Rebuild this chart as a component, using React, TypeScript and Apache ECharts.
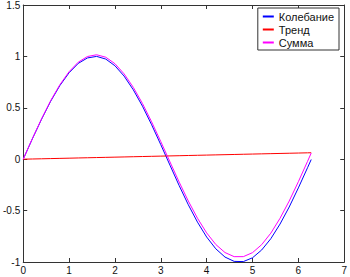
import React, { useEffect, useRef } from "react";
import * as echarts from "echarts";

const xs = [0, 0.2, 0.4, 0.6, 0.8, 1.0, 1.2, 1.4, 1.6, 1.8, 2.0, 2.2, 2.4, 2.6, 2.8, 3.0, 3.2, 3.4, 3.6, 3.8, 4.0, 4.2, 4.4, 4.6, 4.8, 5.0, 5.2, 5.4, 5.6, 5.8, 6.0, 6.2, 6.28];
const oscillation = [0, 0.199, 0.389, 0.565, 0.717, 0.841, 0.932, 0.985, 1.0, 0.974, 0.909, 0.808, 0.675, 0.516, 0.335, 0.141, -0.058, -0.256, -0.443, -0.612, -0.757, -0.872, -0.952, -0.994, -0.996, -0.959, -0.883, -0.773, -0.631, -0.465, -0.279, -0.083, -0.003];
const trend = [0, 0.002, 0.004, 0.006, 0.008, 0.01, 0.012, 0.014, 0.016, 0.018, 0.02, 0.022, 0.024, 0.026, 0.028, 0.03, 0.032, 0.034, 0.036, 0.038, 0.04, 0.042, 0.044, 0.046, 0.048, 0.05, 0.052, 0.054, 0.056, 0.058, 0.06, 0.062, 0.0628];
const total = [0, 0.201, 0.393, 0.571, 0.725, 0.851, 0.944, 0.999, 1.016, 0.992, 0.929, 0.83, 0.699, 0.542, 0.363, 0.171, -0.026, -0.222, -0.407, -0.574, -0.717, -0.83, -0.908, -0.948, -0.948, -0.909, -0.831, -0.719, -0.575, -0.407, -0.219, -0.021, 0.06];
const seriesNames = ["Колебание", "Тренд", "Сумма"];
const seriesColors = ["#0000ff", "#ff0000", "#ff00ff"];

export default function App() {
  const ref = useRef<HTMLDivElement>(null);
  useEffect(() => {
    const chart = echarts.init(ref.current!, null, { renderer: "svg" });
    const font = "'Liberation Sans', Arial, sans-serif";
    const axisCommon = {
      axisLine: { show: true, onZero: false, lineStyle: { color: "#333", width: 1 } },
      axisTick: { show: true, inside: true, length: 4, lineStyle: { color: "#333" } },
      splitLine: { show: false },
    };
    const datasets = [oscillation, trend, total];
    chart.setOption({
      animation: false,
      backgroundColor: "#fff",
      grid: { left: 20, right: 5, top: 5, bottom: 15, containLabel: false },
      legend: {
        orient: "vertical",
        right: 11,
        top: 8,
        data: seriesNames.map((name, i) => ({ name, itemStyle: { color: seriesColors[i] } })),
        icon: "rect",
        itemWidth: 11,
        itemHeight: 2,
        itemGap: 2,
        padding: [3, 5, 2, 5],
        borderColor: "#333",
        borderWidth: 1,
        backgroundColor: "#fff",
        textStyle: { fontFamily: font, fontSize: 11, color: "#111" },
      },
      xAxis: [
        {
          type: "value", min: 0, max: 7, interval: 1, position: "bottom",
          ...axisCommon,
          axisLabel: { show: true, color: "#111", fontFamily: font, fontSize: 10, margin: 3 },
        },
        {
          type: "value", min: 0, max: 7, interval: 1, position: "top",
          ...axisCommon,
          axisLabel: { show: false },
        },
      ],
      yAxis: [
        {
          type: "value", min: -1, max: 1.5, interval: 0.5, position: "left",
          ...axisCommon,
          axisLabel: { show: true, color: "#111", fontFamily: font, fontSize: 10, margin: 3 },
        },
        {
          type: "value", min: -1, max: 1.5, interval: 0.5, position: "right",
          ...axisCommon,
          axisLabel: { show: false },
        },
      ],
      series: seriesNames.map((name, i) => ({
        name,
        type: "line",
        data: xs.map((x, j) => [x, datasets[i][j]]),
        showSymbol: false,
        symbol: "none",
        smooth: false,
        itemStyle: { color: seriesColors[i] },
        lineStyle: { color: seriesColors[i], width: 1 },
        xAxisIndex: 0,
        yAxisIndex: 0,
      })),
    });
    return () => chart.dispose();
  }, []);
  return <div ref={ref} style={{ position: "fixed", left: 0, top: 0, width: 350, height: 277 }} />;
}
